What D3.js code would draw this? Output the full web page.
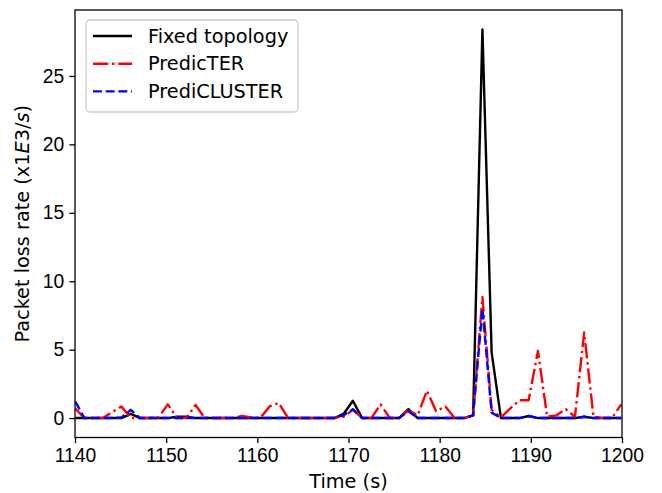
<!DOCTYPE html>
<html>
<head>
<meta charset="utf-8">
<script src="https://cdn.jsdelivr.net/npm/d3@7"></script>
<style>
  body { margin: 0; background: #fff; }
  svg { display: block; font-family: "DejaVu Sans", sans-serif; }
  .axis text { font-size: 19.3px; fill: #000; }
  .axis path, .axis line { stroke: #000; stroke-width: 1.3px; }
</style>
</head>
<body>
<svg width="662" height="493"></svg>
<script>
// sample times (s)
var times = [1140.03, 1141.04, 1142.06, 1143.07, 1144.09, 1145.10, 1146.12, 1147.13, 1148.15, 1149.16,
             1150.18, 1151.19, 1152.21, 1153.22, 1154.24, 1155.25, 1156.27, 1157.28, 1158.30, 1159.31,
             1160.33, 1161.34, 1162.36, 1163.37, 1164.39, 1165.40, 1166.42, 1167.43, 1168.45, 1169.46,
             1170.48, 1171.49, 1172.51, 1173.52, 1174.54, 1175.55, 1176.57, 1177.58, 1178.60, 1179.61,
             1180.63, 1181.64, 1182.66, 1183.67, 1184.69, 1185.70, 1186.72, 1187.73, 1188.75, 1189.76,
             1190.78, 1191.79, 1192.81, 1193.82, 1194.84, 1195.85, 1196.87, 1197.88, 1198.90, 1199.91];

// packet loss rate (x1E3/s)
var fixedTopology = [0, 0, 0, 0, 0, 0, 0.3, 0, 0, 0,
                     0, 0.1, 0.1, 0, 0, 0, 0, 0, 0, 0,
                     0, 0, 0, 0, 0, 0, 0, 0, 0, 0.3,
                     1.27, 0, 0, 0, 0, 0, 0.66, 0, 0, 0,
                     0, 0, 0, 0.2, 28.4, 4.8, 0, 0, 0, 0.15,
                     0, 0, 0, 0, 0, 0.1, 0, 0, 0, 0];
var predicTER = [0.7, 0, 0, 0, 0.45, 0.85, 0, 0, 0, 0.05,
                 1.0, 0, 0, 0.95, 0, 0, 0, 0, 0.15, 0.05,
                 0, 0.85, 1.1, 0, 0, 0, 0, 0, 0, 0.1,
                 0.6, 0, 0, 1.0, 0, 0, 0.55, 0.2, 2.0, 0.5,
                 0.85, 0, 0, 0.2, 8.85, 0.6, 0.05, 0.7, 1.3, 1.3,
                 4.9, 0.1, 0.2, 0.65, 0.1, 6.25, 0.1, 0, 0, 1.0];
var prediCLUSTER = [1.2, 0, 0, 0, 0, 0.05, 0.6, 0, 0, 0,
                    0, 0, 0, 0, 0, 0, 0, 0, 0, 0,
                    0, 0, 0, 0, 0, 0, 0, 0, 0, 0.2,
                    0.65, 0, 0, 0, 0, 0, 0.5, 0, 0, 0,
                    0, 0, 0, 0.2, 8.0, 0.4, 0, 0, 0, 0.15,
                    0, 0, 0, 0, 0, 0.1, 0, 0, 0, 0];

var xTicks = [1140, 1150, 1160, 1170, 1180, 1190, 1200];
var yTicks = [0, 5, 10, 15, 20, 25];

var series = [
  {name: "Fixed topology", values: fixedTopology, color: "#000000", dash: null},
  {name: "PredicTER", values: predicTER, color: "#ff0000", dash: "15.3,3.8,2.4,3.8"},
  {name: "PrediCLUSTER", values: prediCLUSTER, color: "#0000ff", dash: "8.9,3.8"}
];

var svg = d3.select("svg"),
    plotLeft = 75, plotRight = 622, plotTop = 10, plotBottom = 437.5;

var x = d3.scaleLinear().domain([1140, 1200]).range([plotLeft, plotRight]);
var y = d3.scaleLinear().domain([-1.42, 29.82]).range([plotBottom, plotTop]);

svg.append("defs").append("clipPath")
    .attr("id", "plotclip")
  .append("rect")
    .attr("x", plotLeft).attr("y", plotTop)
    .attr("width", plotRight - plotLeft).attr("height", plotBottom - plotTop);

var line = d3.line()
    .x(function(d) { return x(d[0]); })
    .y(function(d) { return y(d[1]); });

// lines
svg.append("g")
    .attr("clip-path", "url(#plotclip)")
  .selectAll("path")
  .data(series)
  .enter().append("path")
    .attr("d", function(s) { return line(times.map(function(t, i) { return [t, s.values[i]]; })); })
    .attr("fill", "none")
    .attr("stroke", function(s) { return s.color; })
    .attr("stroke-width", 2.4)
    .attr("stroke-dasharray", function(s) { return s.dash; })
    .attr("stroke-linejoin", "round");

// axes
var xAxis = svg.append("g")
    .attr("class", "axis")
    .attr("transform", "translate(0," + plotBottom + ")")
    .call(d3.axisBottom(x).tickValues(xTicks).tickFormat(d3.format("d"))
      .tickSize(5.6).tickPadding(5.2).tickSizeOuter(0));
xAxis.select(".domain").remove();

var yAxis = svg.append("g")
    .attr("class", "axis")
    .attr("transform", "translate(" + plotLeft + ",0)")
    .call(d3.axisLeft(y).tickValues(yTicks).tickFormat(d3.format("d"))
      .tickSize(5.6).tickPadding(5.2).tickSizeOuter(0));
yAxis.select(".domain").remove();

// frame
svg.append("rect")
    .attr("x", plotLeft).attr("y", plotTop)
    .attr("width", plotRight - plotLeft).attr("height", plotBottom - plotTop)
    .attr("fill", "none")
    .attr("stroke", "#000")
    .attr("stroke-width", 1.3);

// axis labels
svg.append("text")
    .attr("x", (plotLeft + plotRight) / 2)
    .attr("y", 488)
    .attr("text-anchor", "middle")
    .style("font-size", "19.3px")
    .text("Time (s)");

var ylab = svg.append("text")
    .attr("transform", "translate(29," + (plotTop + plotBottom) / 2 + ") rotate(-90)")
    .attr("text-anchor", "middle")
    .style("font-size", "19.3px");
ylab.append("tspan").text("Packet loss rate (x1");
ylab.append("tspan").style("font-style", "italic").text("E");
ylab.append("tspan").text("3/");
ylab.append("tspan").style("font-style", "italic").text("s");
ylab.append("tspan").text(")");

// legend
var legend = svg.append("g");
legend.append("rect")
    .attr("x", 86).attr("y", 20)
    .attr("width", 212).attr("height", 92)
    .attr("rx", 4).attr("ry", 4)
    .attr("fill", "#fff").attr("fill-opacity", 0.8)
    .attr("stroke", "#cccccc").attr("stroke-width", 1.3);

var items = legend.selectAll("g.item")
    .data(series)
  .enter().append("g")
    .attr("class", "item")
    .attr("transform", function(d, i) { return "translate(0," + (36 + i * 27.7) + ")"; });

items.append("line")
    .attr("x1", 93).attr("x2", 132)
    .attr("stroke", function(d) { return d.color; })
    .attr("stroke-width", 2.4)
    .attr("stroke-dasharray", function(d) { return d.dash; });

items.append("text")
    .attr("x", 148)
    .attr("dy", "0.35em")
    .style("font-size", "19.3px")
    .text(function(d) { return d.name; });
</script>
</body>
</html>
